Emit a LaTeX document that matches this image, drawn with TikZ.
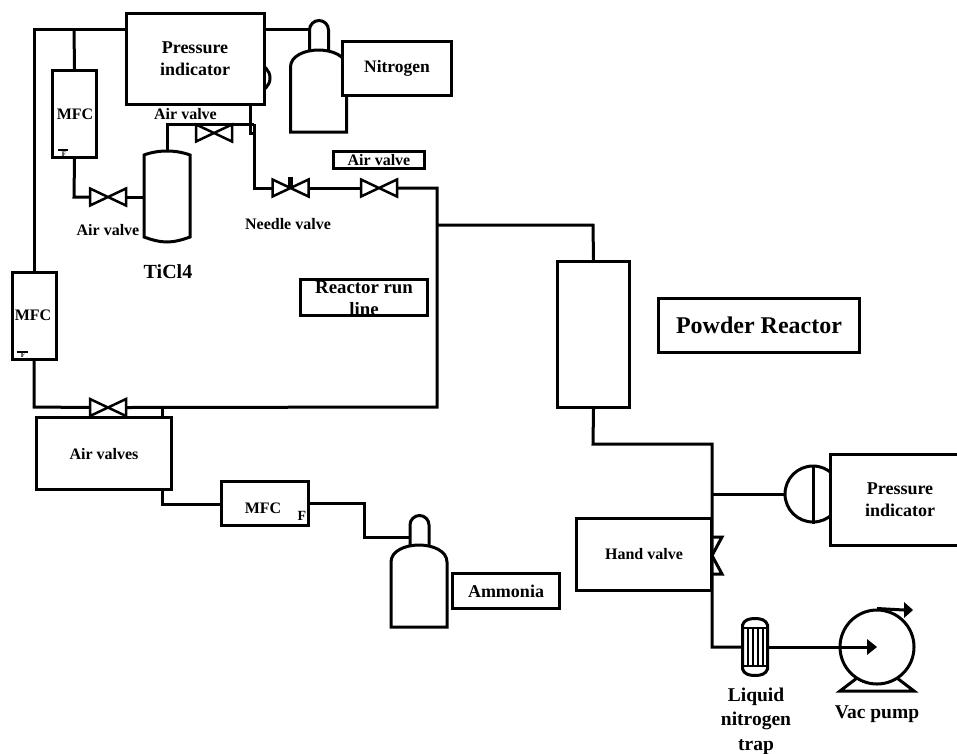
\documentclass[tikz,border=0pt]{standalone}
\usepackage{fontspec}
\setmainfont{Liberation Serif}
\usetikzlibrary{calc}
\newcommand{\fs}[1]{\fontsize{#1}{#1}\bfseries\selectfont}
\newcommand{\fsl}[2]{\fontsize{#1}{#2}\bfseries\selectfont}
\tikzset{
  pipe/.style={line width=3pt,line cap=butt,line join=miter},
  unit/.style={draw,fill=white,line width=3pt,inner sep=0pt,align=center},
  lbl/.style={inner sep=0pt,align=center},
  pics/bowtie/.style={code={
    \coordinate (-l) at (-18,0);
    \coordinate (-r) at (18,0);
    \draw[pipe,line width=2.5pt,line join=miter] (-18,-8.5) -- (18,8.5) -- (18,-8.5) -- (-18,8.5) -- cycle;
  }},
  pics/bottle/.style={code={
    \coordinate (-neck) at (-9,-30);
    \draw[pipe,fill=white] (-9,0) -- (-9,-20) arc[start angle=180,end angle=0,x radius=9.5,y radius=-9.5] -- (10,0);
    \draw[pipe,fill=white] (-28,82) -- (-28,17) .. controls (-28,6) and (-14,0) .. (0,0) .. controls (14,0) and (28,6) .. (28,17) -- (28,82) -- cycle;
  }},
}
\begin{document}
\begin{tikzpicture}[x=1pt,y=-1pt]
\useasboundingbox (0,0) rectangle (957,753);
\clip (0,0) rectangle (957,753);

% named anchor positions
\coordinate (gaugeA) at (256,78);
\coordinate (hdrL) at (34,29);
\coordinate (hdrM) at (74,29);
\coordinate (botL) at (34,407);
\coordinate (botR) at (437,407);
\coordinate (runT) at (437,188);
\coordinate (runJ) at (437,225);
\coordinate (rctJ) at (593,225);
\coordinate (outJ) at (593,444);
\coordinate (outK) at (712,444);
\coordinate (gaugeJ) at (712,494);
\coordinate (trapJ) at (712,647);
\coordinate (avJ) at (162,407);
\coordinate (teeA) at (254,124);
\coordinate (teeB) at (254,188);
\coordinate (tclA) at (167,124);
\coordinate (mfcB) at (74,197);
\coordinate (nh3A) at (364,503);
\coordinate (nh3B) at (364,537);
\coordinate (avB) at (162,504);

% valves
\pic (v1) at (108,197) {bowtie};
\pic (v2) at (214,133) {bowtie};
\pic (v3) at (290.5,188) {bowtie};
\pic (v4) at (379,188) {bowtie};
\pic (v5) at (108,407.5) {bowtie};
\fill (288,177) rectangle (293,187);

% hand valve, half hidden behind its box
\coordinate (hv) at (712,555.5);
\draw[pipe] (702,537) -- (722,574) -- (702,574) -- (722,537) -- cycle;

% gauges
\draw[pipe] (gaugeA) circle[radius=14];
\node[draw,circle,line width=3pt,minimum size=56pt,inner sep=0pt] (g2) at (813,494) {};
\draw[pipe] (g2.north) -- (g2.south);

% units
\node[unit,minimum width=138pt,minimum height=91pt] (pi1) at (195.5,59) {};
\node[lbl,font=\fsl{18}{22}] at (195,59) {Pressure\\indicator};
\node[unit,minimum width=44pt,minimum height=87pt] (mfc1) at (74.5,114) {};
\node[lbl] at (75,114) {\fs{16}MFC};
\node[unit,minimum width=44pt,minimum height=87pt] (mfc2) at (34.5,316) {};
\node[lbl] at (33,315) {\fs{16}MFC};
\node[unit,minimum width=135pt,minimum height=72pt] (av) at (104,453.5) {};
\node[lbl] at (104,454) {\fs{16}Air valves};
\node[unit,minimum width=87pt,minimum height=44pt] (mfc3) at (265,503.5) {};
\node[lbl] at (263,508) {\fs{16}MFC};
\node[lbl] at (302,516) {\fs{14}F};
\node[unit,minimum width=72pt,minimum height=146pt] (rct) at (593.5,334.5) {};
\node[unit,minimum width=201pt,minimum height=54pt] (pr) at (759,325.5) {\fs{24}Powder Reactor};
\node[unit,minimum width=140pt,minimum height=91pt] (pi2) at (900.5,500) {};
\node[lbl,font=\fsl{18}{22}] at (900,500) {Pressure\\indicator};
\node[unit,minimum width=135pt,minimum height=72pt] (hand) at (644,554.5) {\fs{16}Hand valve};
\node[unit,minimum width=91pt,minimum height=17pt] (avl) at (379,160) {\fs{16}Air valve};
\node[unit,minimum width=127pt,minimum height=36pt] (rrl) at (364,297.5) {};
\node[lbl,font=\fsl{18.8}{22}] at (364,298) {Reactor run\\line};

% vessel
\node[inner sep=0pt,minimum width=46pt,minimum height=92pt] (tcl) at (167,196) {};
\draw[pipe,fill=white] (144,155) .. controls (152,152) and (160,151) .. (167,151) .. controls (174,151) and (182,152) .. (190,155)
  -- (190,237) .. controls (182,240) and (174,242) .. (167,242) .. controls (160,242) and (152,240) .. (144,237) -- cycle;

% cylinders
\pic (n2) at (318.5,50) {bottle};
\pic (nh3) at (419,545) {bottle};
\node[unit,minimum width=109pt,minimum height=54pt] (nit) at (397,68.5) {\fs{17.5}Nitrogen};
\node[unit,minimum width=107pt,minimum height=35pt] (amm) at (506,591) {\fs{18}Ammonia};

% trap
\node[inner sep=0pt,minimum width=26pt,minimum height=58pt] (trap) at (755,647) {};
\draw[pipe,fill=white] (742.5,625) .. controls (744,620) and (749,618.5) .. (755,618.5) .. controls (761,618.5) and (766,620) .. (767.5,625) -- (767.5,669) .. controls (766,674) and (761,675.5) .. (755,675.5) .. controls (749,675.5) and (744,674) .. (742.5,669) -- cycle;
\draw[pipe,line width=2pt] (742.5,628) -- (767.5,628) (742.5,666) -- (767.5,666)
  (748,628) -- (748,666) (753,628) -- (753,666) (758,628) -- (758,666) (763,628) -- (763,666);

% pump
\node[draw,circle,line width=3pt,minimum size=74pt,inner sep=0pt] (pump) at (877,647) {};
\draw[pipe] (857,678) -- (840,691) -- (914,691) -- (897,678);
\coordinate (pumpOut) at (913,610);
\draw[pipe] (pump.north) -- (904,610);
\fill (904,602) -- (pumpOut) -- (904,618) -- cycle;
\fill (867,639) -- (pump.center) -- (867,655) -- cycle;

% connectors
\begin{scope}[pipe]
\draw (pi1.west |- hdrL) -- (hdrL) -- (mfc2.north -| hdrL);
\draw (hdrM) -- (mfc1.north);
\draw (mfc1.south) -- (mfcB) -- (v1-l);
\draw (v1-r) -- (v1-r -| tcl.west);
\draw (tcl.north -| tclA) -- (tclA) -- (teeA);
\draw (pi1.south -| 250,0) -- (250,133) -- (254,133);
\draw (teeA) -- (teeB) -- (v3-l);
\draw (v3-r) -- (v4-l);
\draw (v4-r) -- (runT) -- (botR) -- (v5-r);
\draw (v5-l) -- (botL) -- (mfc2.south -| botL);
\draw (avJ) -- (av.north -| avJ);
\draw (av.south -| avB) -- (avB) -- (mfc3.west |- avB);
\draw (mfc3.east |- nh3A) -- (nh3A) -- (nh3B) -- (nh3-neck |- nh3B);
\draw (pi1.east |- hdrL) -- (n2-neck |- hdrL);
\draw (runJ) -- (rctJ) -- (rct.north);
\draw (rct.south) -- (outJ) -- (outK) -- (trapJ) -- (trap.west |- trapJ);
\draw (gaugeJ) -- (g2.west);
\draw (trap.east |- trapJ) -- (867,647);
\end{scope}

% small flow marks on the MFCs
\draw[line width=2pt] (58,150) -- (68,150) (17,351.5) -- (28,351.5);
\node[lbl] at (64,154) {\fs{7}F};
\node[lbl] at (23,355.5) {\fs{7}F};

% labels
\node[lbl] (l1) at (185.5,114.5) {\fs{16}Air valve};
\node[lbl] (l2) at (108,230) {\fs{16}Air valve};
\node[lbl] (l3) at (288,224.5) {\fs{16}Needle valve};
\node[lbl] (l4) at (168,272) {\fs{20}TiCl4};
\node[lbl,font=\fsl{19.5}{24.5}] (l5) at (756,721) {Liquid\\nitrogen\\trap};
\node[lbl] (l6) at (877,714) {\fs{19.5}Vac pump};
\end{tikzpicture}
\end{document}
